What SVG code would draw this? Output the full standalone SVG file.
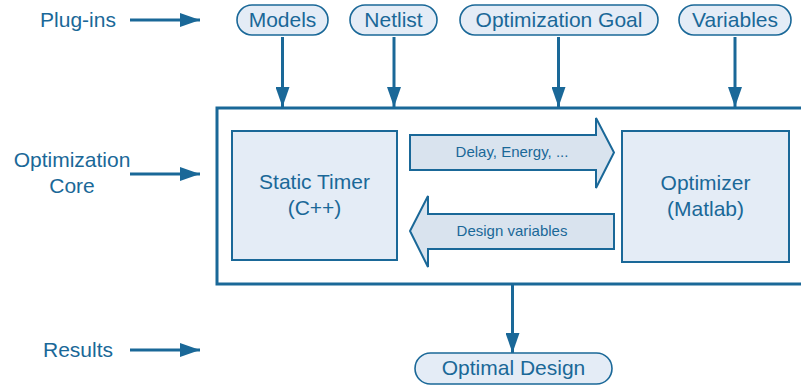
<svg xmlns="http://www.w3.org/2000/svg" width="801" height="387" viewBox="0 0 801 387">
<defs>
<marker id="ahb" viewBox="0 0 20 14" refX="20" refY="7" markerWidth="20" markerHeight="14" markerUnits="userSpaceOnUse" orient="auto">
<path d="M0,0 L20,7 L0,14 z" fill="#1a6898"/>
</marker>
</defs>
<style>
.t{font-family:"Liberation Sans",Arial,sans-serif;fill:#1a6898;}
.lbl{font-size:21px;}
.sm{font-size:15px;}
.pill{fill:#e4ecf6;stroke:#1a6898;stroke-width:1.6;}
.box{fill:#e4ecf6;stroke:#1a6898;stroke-width:2;}
.fat{fill:#d9e3ee;stroke:#1a6898;stroke-width:2;stroke-linejoin:miter;}
.ln{stroke:#1a6898;stroke-width:3;fill:none;}
</style>
<rect width="801" height="387" fill="#ffffff"/>

<g id="labels">
<text class="t lbl" x="78" y="27" text-anchor="middle">Plug-ins</text>
<text class="t lbl" x="72" y="167" text-anchor="middle">Optimization</text>
<text class="t lbl" x="72" y="193" text-anchor="middle">Core</text>
<text class="t lbl" x="78" y="357" text-anchor="middle">Results</text>
</g>

<g id="core">
<rect x="217" y="108" width="600" height="176" fill="none" stroke="#1a6898" stroke-width="3"/>
</g>

<g id="models"><rect class="pill" x="237" y="5" width="91" height="30" rx="15"/><text class="t lbl" x="282.5" y="27" text-anchor="middle">Models</text></g>
<g id="netlist"><rect class="pill" x="350" y="5" width="87" height="30" rx="15"/><text class="t lbl" x="393.5" y="27" text-anchor="middle">Netlist</text></g>
<g id="goal"><rect class="pill" x="460" y="5" width="198" height="30" rx="15"/><text class="t lbl" x="559" y="27" text-anchor="middle">Optimization Goal</text></g>
<g id="variables"><rect class="pill" x="679" y="5" width="112" height="30" rx="15"/><text class="t lbl" x="735" y="27" text-anchor="middle">Variables</text></g>

<g id="timer"><rect class="box" x="232" y="131" width="165" height="129"/><text class="t lbl" x="314.5" y="189" text-anchor="middle">Static Timer</text><text class="t lbl" x="314.5" y="215" text-anchor="middle">(C++)</text></g>
<g id="optimizer"><rect class="box" x="622" y="131" width="167" height="131"/><text class="t lbl" x="705.5" y="190" text-anchor="middle">Optimizer</text><text class="t lbl" x="705.5" y="216" text-anchor="middle">(Matlab)</text></g>

<g id="delay"><path class="fat" d="M410,135 L596,135 L596,118 L614,152.5 L596,188 L596,170 L410,170 z"/><text class="t sm" x="512" y="157" text-anchor="middle">Delay, Energy, ...</text></g>
<g id="designvars"><path class="fat" d="M614,214 L428,214 L428,196 L410,231 L428,267 L428,249 L614,249 z"/><text class="t sm" x="512" y="236" text-anchor="middle">Design variables</text></g>

<g id="optimal"><rect class="pill" x="415" y="353" width="197" height="31" rx="15.5"/><text class="t lbl" x="513.5" y="375" text-anchor="middle">Optimal Design</text></g>

<g id="connectors">
<line class="ln" x1="130" y1="20" x2="200" y2="20" marker-end="url(#ahb)"/>
<line class="ln" x1="130" y1="174" x2="200" y2="174" marker-end="url(#ahb)"/>
<line class="ln" x1="130" y1="350" x2="200" y2="350" marker-end="url(#ahb)"/>
<line class="ln" x1="282.5" y1="37" x2="282.5" y2="107" marker-end="url(#ahb)"/>
<line class="ln" x1="394" y1="37" x2="394" y2="107" marker-end="url(#ahb)"/>
<line class="ln" x1="558.5" y1="37" x2="558.5" y2="107" marker-end="url(#ahb)"/>
<line class="ln" x1="735" y1="37" x2="735" y2="107" marker-end="url(#ahb)"/>
<line class="ln" x1="512.5" y1="285" x2="512.5" y2="353" marker-end="url(#ahb)"/>
</g>
</svg>
